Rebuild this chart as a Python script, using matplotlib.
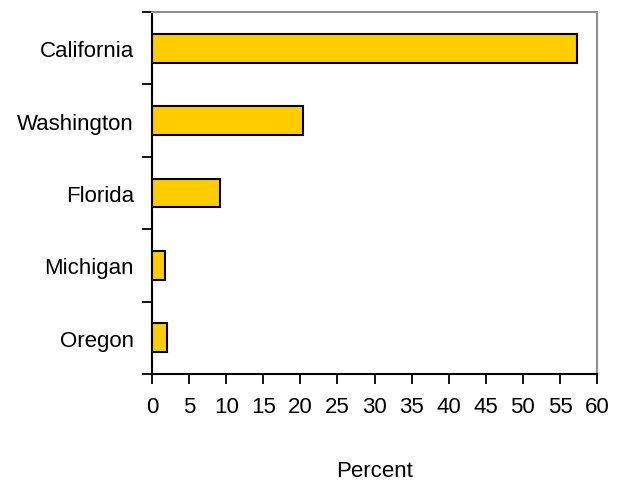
import numpy as np
import matplotlib.pyplot as plt
from matplotlib.ticker import FixedLocator, NullFormatter

plt.rcParams['font.family'] = ['Liberation Sans', 'DejaVu Sans']

# Share by state (percent)
estados = ["California", "Washington", "Florida", "Michigan", "Oregon"]
porcentaje = [57.3, 20.3, 9.2, 1.75, 2.0]
xticks = list(range(0, 61, 5))

fig = plt.figure(figsize=(6.19, 4.81), dpi=100)
ax = fig.add_axes([0.2456, 0.2204, 0.7189, 0.7526])

y = np.arange(len(estados))
ax.barh(y, porcentaje, height=0.40, color="#FFCC00", edgecolor="black", linewidth=1.5)

ax.set_xlim(0, 60)
ax.set_ylim(len(estados) - 0.5, -0.5)

# ticks between categories, labels centred on each bar
ax.yaxis.set_major_locator(FixedLocator(np.arange(len(estados) + 1) - 0.5))
ax.yaxis.set_major_formatter(NullFormatter())
ax.yaxis.set_minor_locator(FixedLocator(y))
ax.set_yticklabels(estados, minor=True)
ax.tick_params(axis="y", which="major", length=7, width=1.3, direction="out")
ax.tick_params(axis="y", which="minor", length=0, pad=13, labelsize=16)

ax.set_xticks(xticks)
ax.tick_params(axis="x", length=7, width=1.3, direction="out", pad=9, labelsize=16)

for lado in ["left", "bottom"]:
    ax.spines[lado].set_linewidth(1.5)
    ax.spines[lado].set_color("black")
for lado in ["top", "right"]:
    ax.spines[lado].set_linewidth(1.5)
    ax.spines[lado].set_color("#909090")

ax.set_xlabel("Percent", fontsize=16, labelpad=31)

plt.savefig("out.png", dpi=100)
